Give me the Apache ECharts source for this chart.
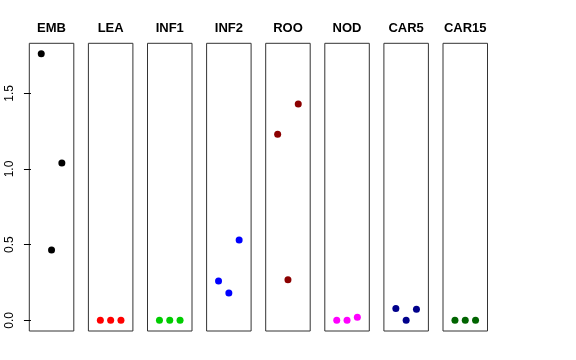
<!DOCTYPE html>
<html>
<head>
<meta charset="utf-8">
<script src="https://cdn.jsdelivr.net/npm/echarts@6/dist/echarts.min.js"></script>
<style>html,body{margin:0;padding:0;background:#fff;}#c{width:576px;height:360px;}</style>
</head>
<body>
<div id="c"></div>
<script>
var categories = ['EMB', 'LEA', 'INF1', 'INF2', 'ROO', 'NOD', 'CAR5', 'CAR15'];
var xPositions = [1, 2, 3];
var EMB = [1.762, 0.465, 1.040];
var LEA = [0, 0, 0];
var INF1 = [0, 0, 0];
var INF2 = [0.260, 0.180, 0.531];
var ROO = [1.229, 0.268, 1.430];
var NOD = [0, 0, 0.020];
var CAR5 = [0.079, 0, 0.073];
var CAR15 = [0, 0, 0];
var seriesValues = [EMB, LEA, INF1, INF2, ROO, NOD, CAR5, CAR15];
var colors = ['#000000', '#FF0000', '#00CD00', '#0000FF', '#8B0000', '#FF00FF', '#00008B', '#006400'];
var yTicks = [0, 0.5, 1.0, 1.5];
var yTickLabels = ['0.0', '0.5', '1.0', '1.5'];

var yMin = -0.0704, yMax = 1.8304;
var xMin = -0.16, xMax = 4.16;
var panelLeft = 29.3, panelStep = 59.1, panelWidth = 44.5, panelTop = 43.3, panelHeight = 287.7;

var grids = [], xAxes = [], yAxes = [], series = [], titles = [];
categories.forEach(function (cat, i) {
  var left = panelLeft + panelStep * i;
  grids.push({
    left: left, top: panelTop, width: panelWidth, height: panelHeight,
    show: true, borderColor: '#333', borderWidth: 1, backgroundColor: 'transparent'
  });
  xAxes.push({
    type: 'value', gridIndex: i, min: xMin, max: xMax,
    show: false
  });
  var first = i === 0;
  yAxes.push({
    type: 'value', gridIndex: i, min: yMin, max: yMax,
    splitLine: { show: false },
    axisLine: { show: false },
    axisTick: first ? { show: true, length: 7, customValues: yTicks, lineStyle: { color: '#000', width: 1 } } : { show: false },
    axisLabel: first ? {
      show: true, customValues: yTicks, rotate: 90, margin: 14,
      color: '#000', fontSize: 12, fontFamily: 'Liberation Sans, Arial, sans-serif',
      formatter: function (v) {
        var k = yTicks.indexOf(v);
        return k >= 0 ? yTickLabels[k] : '';
      }
    } : { show: false }
  });
  series.push({
    type: 'scatter', xAxisIndex: i, yAxisIndex: i,
    data: xPositions.map(function (x, j) { return [x, seriesValues[i][j]]; }),
    symbol: 'circle', symbolSize: 7,
    itemStyle: { color: colors[i], opacity: 1 },
    silent: true
  });
  titles.push({
    text: cat, left: left + panelWidth / 2, top: 22, textAlign: 'center', padding: 0,
    textStyle: { fontSize: 13, fontWeight: 'bold', color: '#000', fontFamily: 'Liberation Sans, Arial, sans-serif' }
  });
});

var chart = echarts.init(document.getElementById('c'), null, { renderer: 'canvas' });
chart.setOption({
  animation: false,
  backgroundColor: '#ffffff',
  title: titles,
  grid: grids,
  xAxis: xAxes,
  yAxis: yAxes,
  series: series
});
</script>
</body>
</html>
